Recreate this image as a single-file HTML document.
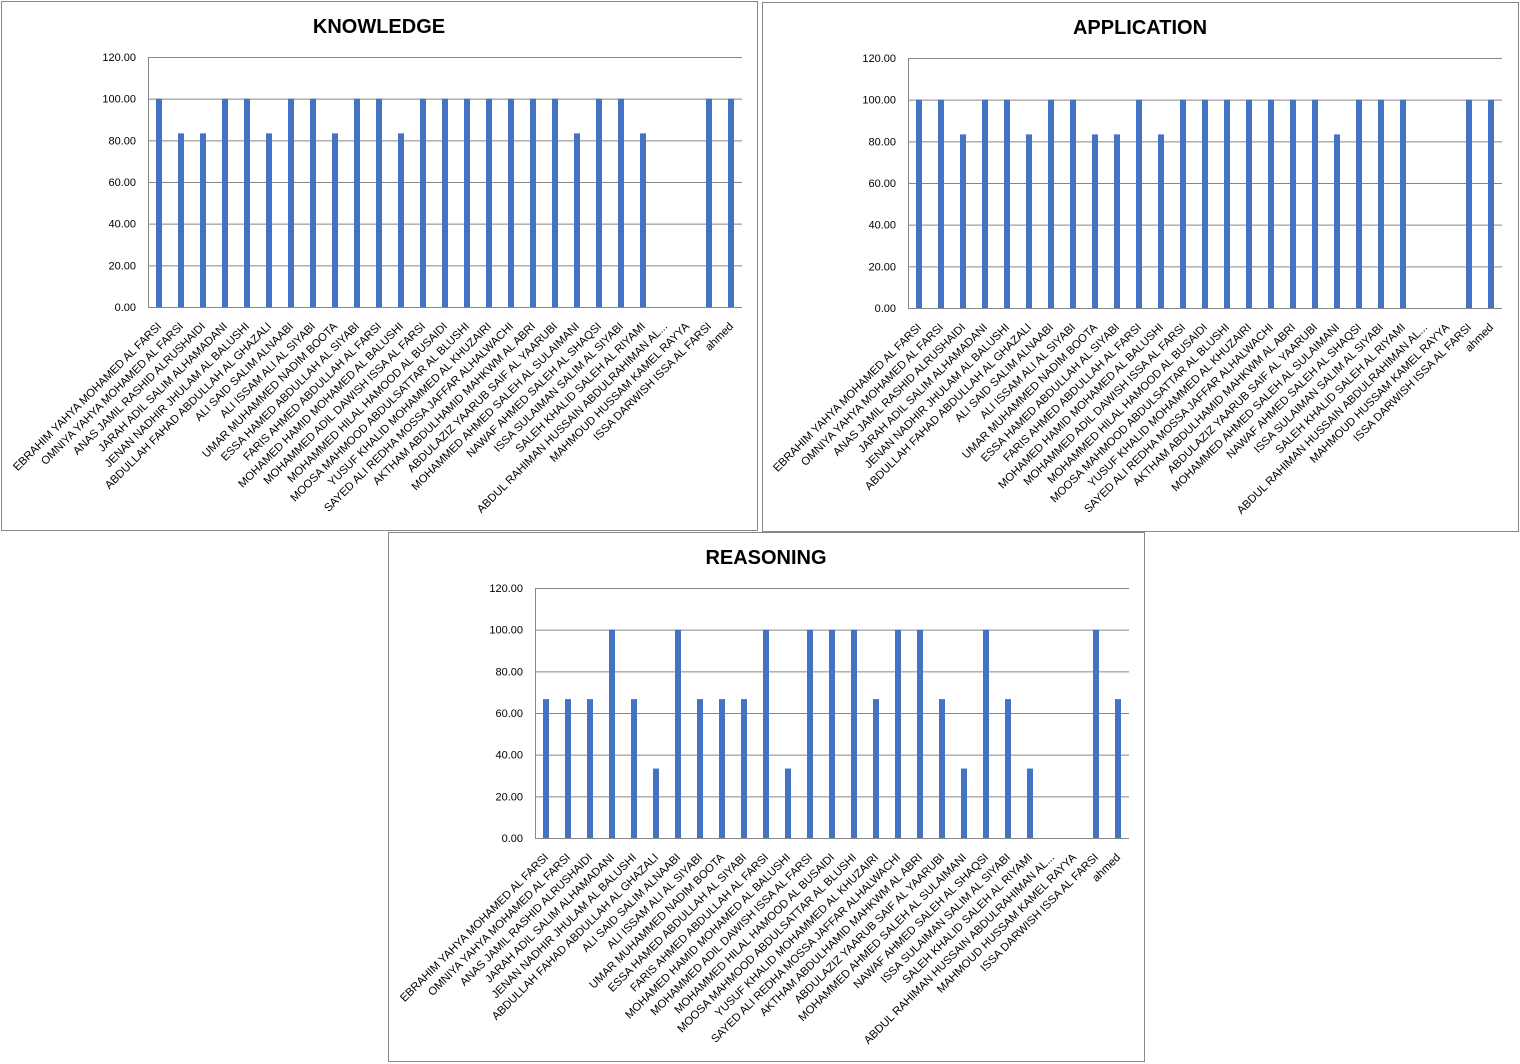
<!DOCTYPE html>
<html><head><meta charset="utf-8"><style>
body{margin:0;background:#fff;width:1520px;height:1064px;overflow:hidden}
svg{position:absolute;left:0;top:0}
</style></head><body>
<svg id="s" width="1520" height="1064" xmlns="http://www.w3.org/2000/svg" font-family="Liberation Sans, sans-serif"></svg>
<script>
const names=["EBRAHIM YAHYA MOHAMED AL FARSI","OMNIYA YAHYA MOHAMED AL FARSI","ANAS JAMIL RASHID ALRUSHAIDI","JARAH ADIL SALIM ALHAMADANI","JENAN NADHIR JHULAM AL BALUSHI","ABDULLAH FAHAD ABDULLAH AL GHAZALI","ALI SAID SALIM ALNAABI","ALI ISSAM ALI AL SIYABI","UMAR MUHAMMED NADIM BOOTA","ESSA HAMED ABDULLAH AL SIYABI","FARIS AHMED ABDULLAH AL FARSI","MOHAMED HAMID MOHAMED AL BALUSHI","MOHAMMED ADIL DAWISH ISSA AL FARSI","MOHAMMED HILAL HAMOOD AL BUSAIDI","MOOSA MAHMOOD ABDULSATTAR AL BLUSHI","YUSUF KHALID MOHAMMED AL KHUZAIRI","SAYED ALI REDHA MOSSA JAFFAR ALHALWACHI","AKTHAM ABDULHAMID MAHKWM AL ABRI","ABDULAZIZ YAARUB SAIF AL YAARUBI","MOHAMMED AHMED SALEH AL SULAIMANI","NAWAF AHMED SALEH AL SHAQSI","ISSA SULAIMAN SALIM AL SIYABI","SALEH KHALID SALEH AL RIYAMI","ABDUL RAHIMAN  HUSSAIN ABDULRAHIMAN AL...","MAHMOUD HUSSAM KAMEL RAYYA","ISSA DARWISH ISSA AL FARSI","ahmed"];
const a=83.33,b=66.67,c=33.33;
const charts=[
{bx:1,by:1,title:"KNOWLEDGE",px:148,py:57,v:[100,a,a,100,100,a,100,100,a,100,100,a,100,100,100,100,100,100,100,a,100,100,a,0,0,100,100]},
{bx:762,by:2,title:"APPLICATION",px:908,py:58,v:[100,100,a,100,100,a,100,100,a,a,100,a,100,100,100,100,100,100,100,a,100,100,100,0,0,100,100]},
{bx:388,by:532,title:"REASONING",px:535,py:588,v:[b,b,b,100,b,c,100,b,b,b,100,c,100,100,100,b,100,100,b,c,100,b,c,0,0,100,b]}];
let h="";
for(const ch of charts){
 h+=`<rect x="${ch.bx+0.5}" y="${ch.by+0.5}" width="756" height="529" fill="#fff" stroke="#888"/>`;
 h+=`<text x="${ch.bx+378}" y="${ch.by+32}" text-anchor="middle" font-size="20" font-weight="bold">${ch.title}</text>`;
 const W=594,H=250,x0=ch.px,y0=ch.py;
 for(let i=0;i<=6;i++){const y=y0+H-i*H/6;
  h+=`<line x1="${x0}" y1="${y+0.5}" x2="${x0+W}" y2="${y+0.5}" stroke="#868686"/>`;
  h+=`<text x="${x0-12}" y="${y+4}" text-anchor="end" font-size="11">${(i*20).toFixed(2)}</text>`;}
 h+=`<line x1="${x0+0.5}" y1="${y0}" x2="${x0+0.5}" y2="${y0+H}" stroke="#868686"/>`;
 ch.v.forEach((v,k)=>{const cx=x0+11+22*k;
  if(v>0){const bh=v/120*H;h+=`<rect x="${cx-3}" y="${y0+H-bh}" width="6" height="${bh}" fill="#4472C4"/>`;}
  h+=`<text transform="translate(${cx+3},${y0+H+20}) rotate(-45)" text-anchor="end" font-size="11.3">${names[k]}</text>`;});
}
document.getElementById("s").innerHTML=h;
</script>
</body></html>
